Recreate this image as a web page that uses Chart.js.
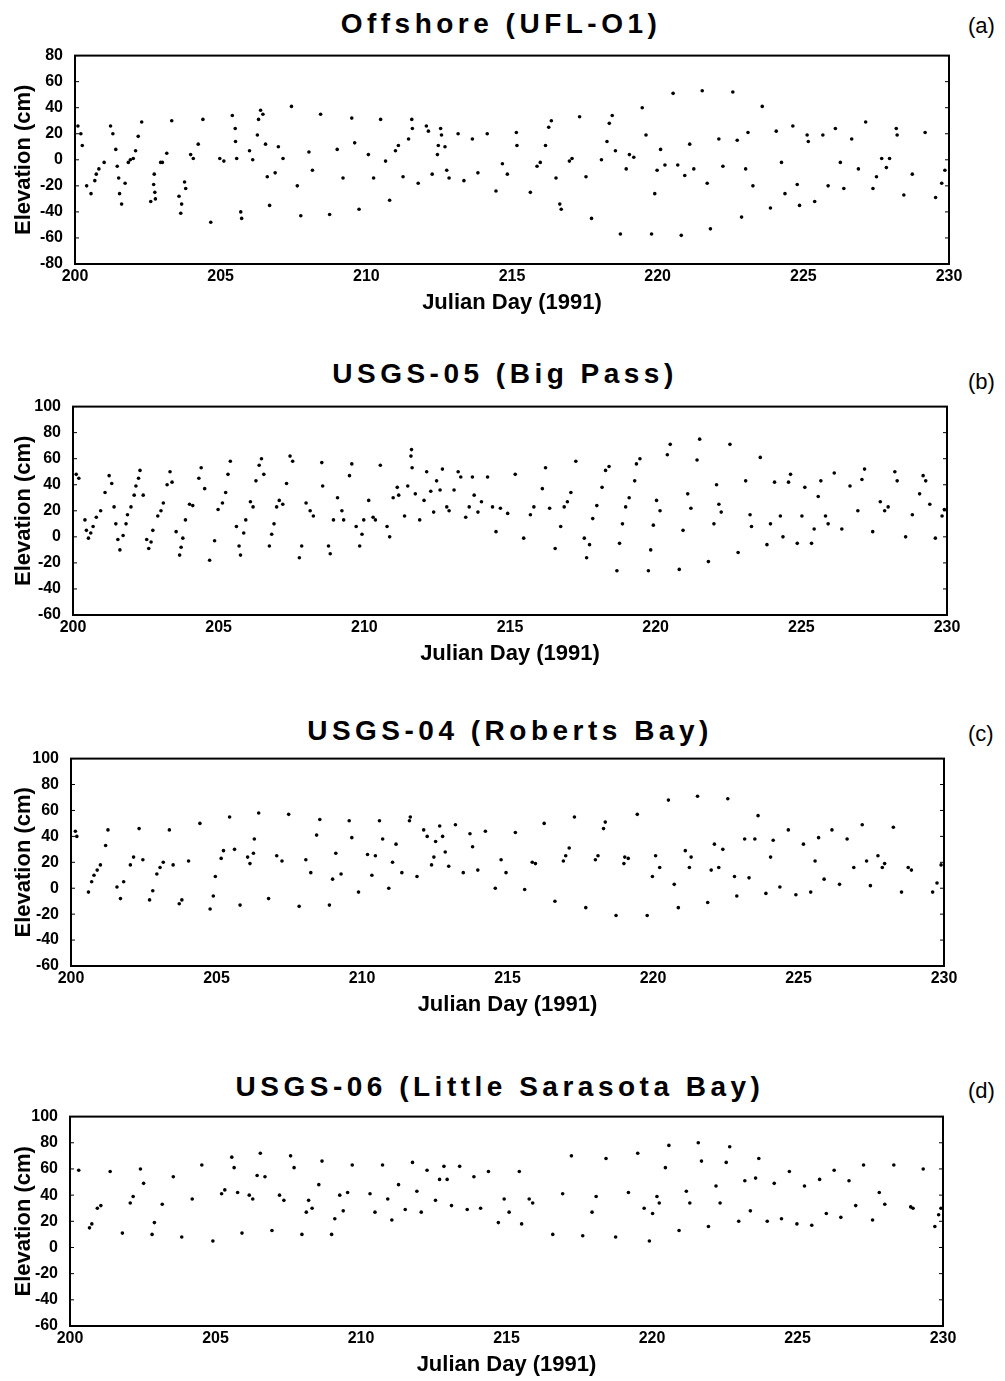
<!DOCTYPE html>
<html>
<head>
<meta charset="utf-8">
<title>Water elevation, Julian Day 200-230 (1991)</title>
<script src="https://cdn.jsdelivr.net/npm/chart.js@4.4.1/dist/chart.umd.min.js"></script>
<style>
  html, body { margin: 0; padding: 0; background: #fff; }
  body { position: relative; width: 1005px; height: 1381px; overflow: hidden; font-family: "Liberation Sans", Arial, sans-serif; color: #000; }
  canvas { position: absolute; left: 0; }
  .panel-title { position: absolute; font-weight: bold; font-size: 28px; line-height: 28px; letter-spacing: 4.5px; white-space: nowrap; transform: translateX(-50%); }
  .panel-tag { position: absolute; left: 968px; font-size: 22px; line-height: 22px; }
</style>
</head>
<body>
<script>
// --- data ---
const panelTitles = ['Offshore (UFL-O1)', 'USGS-05 (Big Pass)', 'USGS-04 (Roberts Bay)', 'USGS-06 (Little Sarasota Bay)'];
const panelTags = ['(a)', '(b)', '(c)', '(d)'];
const xTicks = [200, 205, 210, 215, 220, 225, 230];
const yTicksA = [-80, -60, -40, -20, 0, 20, 40, 60, 80];
const yTicksB = [-60, -40, -20, 0, 20, 40, 60, 80, 100];

// (a) Offshore (UFL-O1)
const dayA = [
  200.1,200.2,200.25,200.4,200.55,200.68,200.73,200.82,201.0,201.22,
  201.3,201.4,201.45,201.5,201.53,201.6,201.72,201.83,201.9,202.0,
  202.08,202.17,202.29,202.6,202.7,202.72,202.74,202.76,202.94,203.0,
  203.15,203.32,203.57,203.63,203.66,203.76,203.8,203.97,204.06,204.23,
  204.39,204.66,204.97,205.11,205.4,205.5,205.51,205.55,205.69,205.72,
  205.99,206.1,206.26,206.3,206.37,206.45,206.54,206.6,206.68,206.87,
  206.98,207.14,207.43,207.63,207.75,208.03,208.15,208.43,208.74,209.0,
  209.2,209.5,209.6,209.75,210.07,210.25,210.49,210.66,210.8,211.0,
  211.1,211.26,211.45,211.56,211.58,211.78,212.06,212.13,212.26,212.44,
  212.47,212.55,212.58,212.7,212.76,212.84,213.15,213.35,213.64,213.83,
  214.15,214.45,214.67,214.84,215.15,215.17,215.63,215.86,215.97,216.15,
  216.26,216.35,216.51,216.64,216.69,216.97,217.06,217.32,217.54,217.73,
  218.07,218.26,218.34,218.44,218.55,218.72,218.92,219.03,219.18,219.47,
  219.6,219.79,219.9,219.98,220.1,220.25,220.53,220.69,220.81,220.93,
  221.1,221.24,221.53,221.7,221.81,222.1,222.24,222.58,222.73,222.88,
  223.02,223.1,223.27,223.59,223.87,224.07,224.25,224.37,224.64,224.79,
  224.87,225.13,225.17,225.39,225.67,225.85,226.1,226.27,226.39,226.66,
  226.89,227.14,227.39,227.51,227.69,227.85,227.96,228.19,228.22,228.45,
  228.74,229.18,229.54,229.75,229.86
];
const elevA = [
  26,20,11,-20,-26,-16,-11,-7,-2,26,
  20,8,-5,-14,-26,-34,-18,-2,0,1,
  7,18,29,-32,-19,-11,-25,-30,-2,-2,
  5,30,-28,-41,-34,-17,-22,4,1,12,
  31,-48,1,-1,34,24,14,1,-40,-45,
  7,0,19,31,38,35,12,-13,-35,-10,
  10,1,41,-20,-43,6,-8,35,-42,8,
  -14,32,13,-38,4,-14,31,-1,-31,7,
  11,-13,16,31,24,-18,26,22,-11,4,
  11,24,19,10,-8,-14,20,-16,16,-10,
  20,-24,-3,-11,21,11,-25,-5,-2,11,
  25,30,-14,-34,-38,-1,1,33,-13,-45,
  0,14,28,34,7,-57,-7,4,2,40,
  19,-57,-26,-8,8,-4,51,-4,-58,-12,
  12,-7,53,-18,-53,16,-5,52,15,-44,
  -7,21,-20,41,-37,22,-2,-26,26,-19,
  -35,19,14,-32,19,-20,24,-2,-22,16,
  -7,29,-22,-13,1,-6,1,24,19,-27,
  -11,21,-29,-18,-8
];

// (b) USGS-05 (Big Pass)
const dayB = [
  200.11,200.2,200.41,200.46,200.53,200.61,200.69,200.8,200.95,201.1,
  201.24,201.33,201.41,201.47,201.54,201.61,201.72,201.82,201.87,201.99,
  202.1,202.16,202.25,202.3,202.41,202.53,202.6,202.68,202.74,202.91,
  203.02,203.1,203.23,203.33,203.4,203.54,203.66,203.71,203.77,203.86,
  204.0,204.11,204.32,204.4,204.52,204.69,204.86,204.98,205.13,205.24,
  205.32,205.4,205.61,205.7,205.75,205.86,205.93,206.09,206.18,206.28,
  206.39,206.47,206.55,206.74,206.82,206.9,206.99,207.08,207.2,207.33,
  207.45,207.54,207.77,207.85,208.0,208.14,208.25,208.54,208.57,208.77,
  208.83,208.94,209.08,209.23,209.29,209.49,209.57,209.72,209.84,209.92,
  209.98,210.15,210.3,210.38,210.55,210.78,210.87,210.99,211.13,211.18,
  211.38,211.49,211.6,211.62,211.64,211.75,211.9,212.05,212.14,212.28,
  212.38,212.48,212.6,212.68,212.83,212.91,213.08,213.22,213.31,213.48,
  213.6,213.71,213.77,213.9,214.02,214.23,214.4,214.52,214.67,214.92,
  215.18,215.47,215.7,215.82,216.11,216.22,216.36,216.55,216.74,216.86,
  216.97,217.09,217.26,217.55,217.63,217.73,217.84,217.98,218.16,218.28,
  218.4,218.67,218.76,218.86,218.97,219.09,219.28,219.34,219.46,219.75,
  219.83,219.92,220.03,220.15,220.4,220.5,220.81,220.94,221.1,221.21,
  221.42,221.51,221.81,222.0,222.09,222.17,222.25,222.55,222.83,223.09,
  223.24,223.29,223.59,223.82,223.94,224.08,224.28,224.37,224.56,224.63,
  224.86,225.02,225.12,225.35,225.44,225.58,225.67,225.83,225.92,226.13,
  226.39,226.67,226.94,227.08,227.17,227.45,227.71,227.86,227.98,228.21,
  228.29,228.58,228.81,229.06,229.18,229.27,229.41,229.6,229.83,229.91
];
const elevB = [
  48,45,13,5,-1,3,8,15,20,34,
  47,41,23,10,-2,-10,1,10,17,23,
  32,39,45,51,32,-2,-9,-4,5,16,
  20,26,40,50,42,4,-14,-8,-1,13,
  25,24,45,53,37,-18,-3,21,26,34,
  48,58,8,-7,-14,3,13,27,23,43,
  55,60,48,-7,2,10,23,28,25,41,
  62,58,-16,-7,26,20,16,57,39,-7,
  -13,13,30,20,13,47,56,8,-7,2,
  13,28,15,13,55,8,0,30,38,32,
  16,39,62,67,53,33,13,28,50,35,
  19,43,36,52,23,20,36,50,46,15,
  23,46,32,19,27,46,23,4,22,18,
  48,-1,17,23,37,53,22,-9,8,23,
  27,34,58,-1,-16,-6,14,24,38,51,
  54,-26,-5,10,23,30,43,56,60,-26,
  -10,9,28,20,63,71,-25,5,33,22,
  59,75,-19,10,40,25,19,71,-12,43,
  17,8,61,-6,10,42,16,0,42,48,
  -5,16,38,-5,6,31,43,16,10,49,
  6,39,20,44,52,4,27,20,23,50,
  43,0,17,33,47,43,25,-1,16,21
];

// (c) USGS-04 (Roberts Bay)
const dayC = [
  200.15,200.2,200.6,200.71,200.79,200.9,201.01,201.19,201.27,201.58,
  201.7,201.81,202.04,202.15,202.34,202.47,202.7,202.81,202.95,203.06,
  203.17,203.38,203.51,203.72,203.81,204.04,204.43,204.78,204.89,204.96,
  205.16,205.24,205.45,205.62,205.81,206.07,206.15,206.27,206.3,206.45,
  206.79,207.07,207.25,207.48,207.84,208.07,208.24,208.44,208.55,208.88,
  208.99,209.1,209.28,209.56,209.65,209.88,210.19,210.34,210.46,210.6,
  210.71,210.92,211.05,211.17,211.37,211.63,211.66,211.89,212.12,212.24,
  212.39,212.47,212.53,212.67,212.77,212.86,212.98,213.21,213.48,213.71,
  213.8,213.98,214.24,214.58,214.78,214.95,215.27,215.59,215.85,215.96,
  216.26,216.63,216.92,217.0,217.12,217.3,217.69,218.02,218.11,218.3,
  218.36,218.73,219.0,219.03,219.15,219.46,219.8,219.98,220.09,220.23,
  220.53,220.73,220.87,221.11,221.25,221.31,221.53,221.88,222.0,222.11,
  222.26,222.4,222.57,222.8,222.88,223.15,223.3,223.5,223.61,223.88,
  224.04,224.13,224.36,224.65,224.91,225.17,225.42,225.57,225.69,225.88,
  226.15,226.41,226.67,226.9,227.19,227.34,227.47,227.73,227.88,227.96,
  228.26,228.54,228.77,228.88,229.61,229.76,229.9
];
const elevC = [
  44,40,-3,5,10,14,18,33,45,1,
  -8,5,18,24,46,22,-9,-2,11,16,
  20,45,18,-12,-9,21,50,-16,-6,9,
  23,29,55,30,-13,24,19,27,38,58,
  -8,25,21,57,-14,22,12,41,53,-13,
  7,27,11,52,39,-3,26,10,25,52,
  38,0,20,34,12,52,55,9,45,40,
  18,24,36,48,40,28,17,49,12,42,
  32,14,44,0,22,12,43,-1,20,19,
  50,-10,21,25,31,55,-15,22,25,46,
  51,-21,19,24,23,57,-21,9,25,16,
  68,3,-15,29,16,24,71,-11,14,34,
  16,30,69,9,-6,38,8,38,56,-4,
  24,37,1,45,-5,34,-3,21,39,7,
  45,3,38,16,49,21,2,25,16,19,
  47,-3,16,14,-3,4,18
];

// (d) USGS-06 (Little Sarasota Bay)
const dayD = [
  200.3,200.67,200.75,200.94,201.06,201.38,201.8,202.07,202.17,202.42,
  202.53,202.82,202.9,203.17,203.55,203.84,204.2,204.53,204.91,205.21,
  205.32,205.56,205.64,205.76,205.91,206.16,206.28,206.43,206.54,206.7,
  206.94,207.2,207.35,207.58,207.7,207.97,208.12,208.2,208.32,208.55,
  208.66,208.99,209.1,209.27,209.39,209.54,209.7,210.31,210.48,210.74,
  210.92,211.06,211.29,211.52,211.77,211.92,212.07,212.27,212.56,212.7,
  212.85,212.96,213.11,213.39,213.65,213.88,214.11,214.38,214.72,214.92,
  215.09,215.44,215.52,215.78,215.9,216.59,216.93,217.23,217.62,217.94,
  218.08,218.42,218.75,219.19,219.51,219.73,219.91,220.02,220.17,220.25,
  220.46,220.58,220.93,221.18,221.3,221.59,221.7,221.94,222.2,222.34,
  222.55,222.67,222.98,223.19,223.38,223.56,223.67,223.96,224.2,224.45,
  224.72,224.98,225.24,225.49,225.76,225.99,226.26,226.49,226.77,227.0,
  227.27,227.58,227.81,228.0,228.31,228.89,228.97,229.32,229.72,229.85,
  229.93
];
const elevD = [
  59,15,18,30,32,58,11,34,39,60,
  49,10,19,33,54,8,37,63,5,41,
  44,69,61,42,11,40,37,55,72,54,
  13,40,36,70,61,10,27,36,30,48,
  66,10,22,40,28,42,63,41,27,63,
  37,21,48,29,65,43,27,59,36,52,
  62,52,32,62,29,54,30,58,19,37,
  27,58,18,37,34,10,41,70,9,27,
  39,68,8,42,72,30,5,26,39,34,
  61,78,13,43,34,80,66,16,47,34,
  65,77,20,51,28,53,68,20,49,22,
  58,18,47,17,52,26,59,23,51,32,
  63,21,42,33,63,31,30,60,16,25,
  30
];

// --- page layout (pixel boxes of each plot frame) ---
const frames = [
  { left: 75, right: 949, top: 44,   bottom: 264,  titleX: 501, titleTop: 10,   tagTop: 15 },
  { left: 73, right: 947, top: 395,  bottom: 615,  titleX: 505, titleTop: 360,  tagTop: 371 },
  { left: 71, right: 944, top: 747,  bottom: 966,  titleX: 510, titleTop: 717,  tagTop: 723 },
  { left: 70, right: 943, top: 1105, bottom: 1326, titleX: 500, titleTop: 1073, tagTop: 1080 }
];

const fontFamily = '"Liberation Sans", Arial, Helvetica, sans-serif';
const tickFont = { family: fontFamily, size: 16, weight: 'bold' };
const axisFont = { family: fontFamily, size: 22, weight: 'bold' };

// box round the plot area, with short inward ticks on both sides
const framePlugin = {
  id: 'frame',
  afterDraw(chart) {
    const { ctx, chartArea: a } = chart;
    const y = chart.scales.y;
    ctx.save();
    ctx.strokeStyle = '#000';
    ctx.lineWidth = 2;
    ctx.strokeRect(a.left, a.top, a.right - a.left, a.bottom - a.top);
    ctx.lineWidth = 1;
    ctx.beginPath();
    y.ticks.forEach(t => {
      const py = y.getPixelForValue(t.value);
      ctx.moveTo(a.left, py);
      ctx.lineTo(a.left + 4, py);
      ctx.moveTo(a.right, py);
      ctx.lineTo(a.right - 4, py);
    });
    ctx.stroke();
    ctx.restore();
  }
};

const makePanel = (i, days, elev, yTicks) => {
  const f = frames[i];

  const title = document.createElement('div');
  title.className = 'panel-title';
  title.textContent = panelTitles[i];
  title.style.left = f.titleX + 'px';
  title.style.top = f.titleTop + 'px';
  document.body.appendChild(title);

  const tag = document.createElement('div');
  tag.className = 'panel-tag';
  tag.textContent = panelTags[i];
  tag.style.top = f.tagTop + 'px';
  document.body.appendChild(tag);

  const h = f.bottom - f.top + 70;
  const canvas = document.createElement('canvas');
  canvas.width = 1005;
  canvas.height = h;
  canvas.style.width = '1005px';
  canvas.style.height = h + 'px';
  canvas.style.top = (f.top - 10) + 'px';
  document.body.appendChild(canvas);

  const points = days.map((d, k) => ({ x: d, y: elev[k] }));

  new Chart(canvas, {
    type: 'scatter',
    data: {
      datasets: [{
        label: panelTitles[i],
        data: points,
        pointBackgroundColor: '#000',
        pointBorderWidth: 0,
        pointRadius: 1.8,
        pointHoverRadius: 1.8
      }]
    },
    options: {
      responsive: false,
      animation: false,
      devicePixelRatio: 1,
      layout: { padding: { top: 10, right: 1005 - f.right, left: 0, bottom: 0 } },
      plugins: {
        legend: { display: false },
        tooltip: { enabled: false }
      },
      scales: {
        x: {
          type: 'linear',
          min: xTicks[0],
          max: xTicks[xTicks.length - 1],
          afterBuildTicks: s => { s.ticks = xTicks.map(v => ({ value: v })); },
          afterFit: s => { s.height = 60; },
          grid: { display: false, drawTicks: false },
          border: { display: false },
          ticks: { color: '#000', font: tickFont, padding: 3, maxRotation: 0, autoSkip: false },
          title: { display: true, text: 'Julian Day (1991)', color: '#000', font: axisFont, padding: { top: 0, bottom: 8 } }
        },
        y: {
          type: 'linear',
          min: yTicks[0],
          max: yTicks[yTicks.length - 1],
          afterBuildTicks: s => { s.ticks = yTicks.map(v => ({ value: v })); },
          afterFit: s => { s.width = f.left; },
          grid: { display: false, drawTicks: false },
          border: { display: false },
          ticks: { color: '#000', font: tickFont, padding: 12, autoSkip: false },
          title: { display: true, text: 'Elevation (cm)', color: '#000', font: axisFont, padding: { top: 11, bottom: 0 } }
        }
      }
    },
    plugins: [framePlugin]
  });
};

const createCharts = () => {
  makePanel(0, dayA, elevA, yTicksA);
  makePanel(1, dayB, elevB, yTicksB);
  makePanel(2, dayC, elevC, yTicksB);
  makePanel(3, dayD, elevD, yTicksB);
};

if (document.readyState === 'loading') {
  document.addEventListener('DOMContentLoaded', createCharts);
} else {
  createCharts();
}
</script>
</body>
</html>
